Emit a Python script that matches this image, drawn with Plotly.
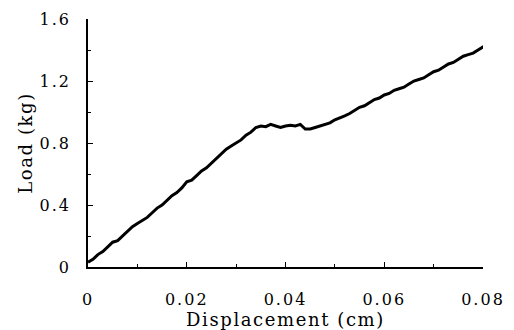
import plotly.graph_objects as go

displacement_cm = [0.000, 0.001, 0.002, 0.003, 0.004, 0.005, 0.006, 0.007, 0.008, 0.009,
                   0.010, 0.011, 0.012, 0.013, 0.014, 0.015, 0.016, 0.017, 0.018, 0.019,
                   0.020, 0.021, 0.022, 0.023, 0.024, 0.025, 0.026, 0.027, 0.028, 0.029,
                   0.030, 0.031, 0.032, 0.033, 0.034, 0.035, 0.036, 0.037, 0.038, 0.039,
                   0.040, 0.041, 0.042, 0.043, 0.044, 0.045, 0.046, 0.047, 0.048, 0.049,
                   0.050, 0.051, 0.052, 0.053, 0.054, 0.055, 0.056, 0.057, 0.058, 0.059,
                   0.060, 0.061, 0.062, 0.063, 0.064, 0.065, 0.066, 0.067, 0.068, 0.069,
                   0.070, 0.071, 0.072, 0.073, 0.074, 0.075, 0.076, 0.077, 0.078, 0.079,
                   0.080, 0.081]
load_kg = [0.03, 0.05, 0.08, 0.10, 0.13, 0.16, 0.17, 0.20, 0.23, 0.26,
           0.28, 0.30, 0.32, 0.35, 0.38, 0.40, 0.43, 0.46, 0.48, 0.51,
           0.55, 0.56, 0.59, 0.62, 0.64, 0.67, 0.70, 0.73, 0.76, 0.78,
           0.80, 0.82, 0.85, 0.87, 0.90, 0.91, 0.905, 0.92, 0.91, 0.90,
           0.91, 0.915, 0.91, 0.92, 0.89, 0.89, 0.90, 0.91, 0.925, 0.93,
           0.95, 0.96, 0.975, 0.99, 1.01, 1.03, 1.04, 1.06, 1.08, 1.09,
           1.11, 1.12, 1.14, 1.15, 1.16, 1.18, 1.20, 1.21, 1.22, 1.24,
           1.26, 1.27, 1.29, 1.31, 1.32, 1.34, 1.36, 1.37, 1.38, 1.40,
           1.42, 1.43]

x_ticks = [0, 0.02, 0.04, 0.06, 0.08]
x_labels = ["0", "0.02", "0.04", "0.06", "0.08"]
y_ticks = [0, 0.4, 0.8, 1.2, 1.6]
y_labels = ["0", "0.4", "0.8", "1.2", "1.6"]
x_title = "Displacement (cm)"
y_title = "Load (kg)"

FONT = "DejaVu Serif"


def spaced(s, px):
    return '<span style="letter-spacing:%gpx">%s</span>' % (px, s)


fig = go.Figure()
fig.add_trace(go.Scatter(x=displacement_cm, y=load_kg, mode="lines",
                         line=dict(color="black", width=3), showlegend=False))

fig.update_layout(
    width=514, height=330,
    margin=dict(l=88, r=31, t=19, b=63),
    paper_bgcolor="white", plot_bgcolor="white",
    font=dict(family=FONT, color="black", size=16),
)
fig.update_xaxes(
    range=[0, 0.08], tickvals=x_ticks, ticktext=[spaced(t, 2) for t in x_labels],
    showgrid=False, zeroline=False, showline=True, linecolor="black", linewidth=1.5,
    ticks="inside", ticklen=5, tickwidth=1, tickcolor="black",
    minor=dict(dtick=0.01, ticks="inside", ticklen=3, tickcolor="black"),
    ticklabelstandoff=17, automargin=False,
    tickfont=dict(family=FONT, size=16, color="black"),
    title=dict(text=spaced(x_title, 1.6), font=dict(family=FONT, size=18, color="black"), standoff=0),
)
fig.update_yaxes(
    range=[0, 1.6], tickvals=y_ticks, ticktext=[spaced(t, 2) for t in y_labels],
    showgrid=False, zeroline=False, showline=True, linecolor="black", linewidth=1.5,
    ticks="inside", ticklen=5, tickwidth=1, tickcolor="black",
    minor=dict(dtick=0.2, ticks="inside", ticklen=3, tickcolor="black"),
    ticklabelstandoff=12, automargin=False,
    tickfont=dict(family=FONT, size=16, color="black"),
    title=dict(text=spaced(y_title, 1.6), font=dict(family=FONT, size=18, color="black"), standoff=2),
)

fig.write_html("out.html")
